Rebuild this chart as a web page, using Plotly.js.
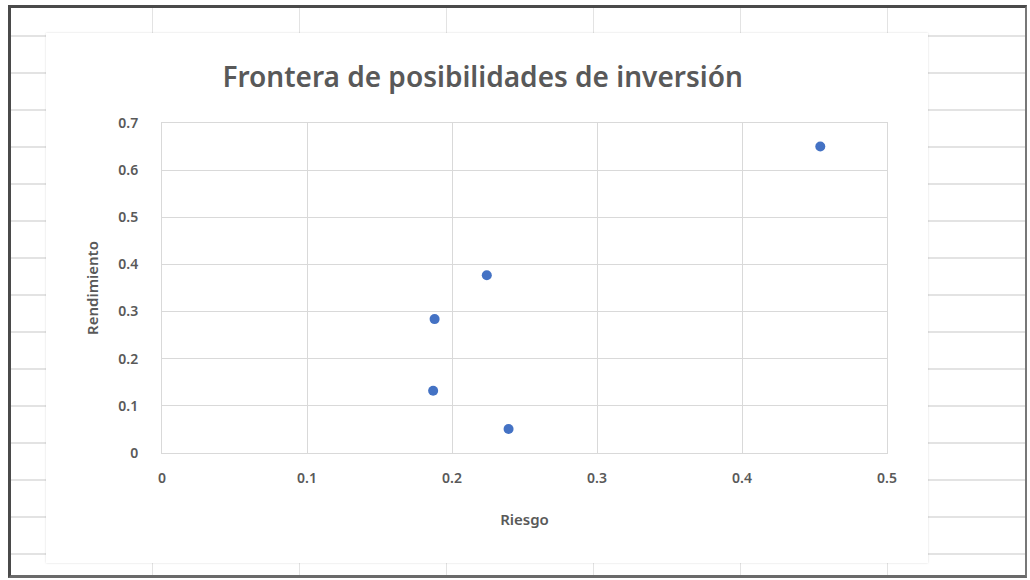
<!DOCTYPE html>
<html>
<head>
<meta charset="utf-8">
<script src="https://cdn.plot.ly/plotly-3.0.1.min.js"></script>
<style>
  html, body { margin: 0; padding: 0; width: 1030px; height: 580px; overflow: hidden; background: #ffffff; }
  #sheet {
    position: absolute; left: 8px; top: 5px; width: 1019px; height: 573px;
    border: 3px solid #4a4a4a; border-bottom-color: #6a6a6a; border-right-width: 2px; border-right-color: #777;
    box-sizing: border-box;
    background-color: #ffffff;
    background-image:
      repeating-linear-gradient(to right, transparent 0px, transparent 141px, #e3e3e3 141px, #e3e3e3 142px, transparent 142px, transparent 147px),
      repeating-linear-gradient(to bottom, transparent 0px, transparent 27px, #e3e3e3 27px, #e3e3e3 29px, transparent 29px, transparent 37px);
  }
  #chart { position: absolute; left: 46px; top: 33px; width: 882px; height: 530px; background: #fff;
    box-shadow: 0 0 2px rgba(0,0,0,0.15); }
</style>
</head>
<body>
<div id="sheet"></div>
<div id="chart"></div>
<script>
// Data
const riesgo = [0.454, 0.224, 0.188, 0.187, 0.239];
const rendimiento = [0.650, 0.377, 0.284, 0.132, 0.051];
const xTicks = [0, 0.1, 0.2, 0.3, 0.4, 0.5];
const xTickLabels = ['0', '0.1', '0.2', '0.3', '0.4', '0.5'];
const yTicks = [0, 0.1, 0.2, 0.3, 0.4, 0.5, 0.6, 0.7];
const yTickLabels = ['0', '0.1', '0.2', '0.3', '0.4', '0.5', '0.6', '0.7'];

const FONT = '"Noto Sans", "Open Sans", sans-serif';
const GREY = '#595959';

const trace = {
  type: 'scatter', mode: 'markers',
  x: riesgo, y: rendimiento,
  marker: { color: '#4472C4', size: 10 },
  hoverinfo: 'x+y'
};

const layout = {
  width: 882, height: 530,
  paper_bgcolor: '#ffffff', plot_bgcolor: '#ffffff',
  margin: { l: 116, r: 41, t: 90, b: 110 },
  showlegend: false,
  title: {
    text: 'Frontera de posibilidades de inversión',
    font: { family: FONT, size: 28, color: GREY, weight: 600 },
    x: 0.495, xanchor: 'center', y: 0.917, yanchor: 'middle'
  },
  xaxis: {
    range: [0, 0.5], tickvals: xTicks, ticktext: xTickLabels,
    showgrid: true, gridcolor: '#d9d9d9', gridwidth: 1,
    zeroline: false, showline: true, linecolor: '#d9d9d9', mirror: true,
    ticks: '', ticklabelstandoff: 12,
    tickfont: { family: FONT, size: 14, color: GREY, weight: 600 },
    title: { text: 'Riesgo', font: { family: FONT, size: 15, color: GREY, weight: 600 }, standoff: 28 }
  },
  yaxis: {
    range: [0, 0.7], tickvals: yTicks, ticktext: yTickLabels,
    showgrid: true, gridcolor: '#d9d9d9', gridwidth: 1,
    zeroline: false, showline: true, linecolor: '#d9d9d9', mirror: true,
    ticks: '', ticklabelstandoff: 20,
    tickfont: { family: FONT, size: 14, color: GREY, weight: 600 },
    title: { text: 'Rendimiento', font: { family: FONT, size: 15, color: GREY, weight: 600 }, standoff: 16 }
  }
};

Plotly.newPlot('chart', [trace], layout, { displayModeBar: false, staticPlot: true });
</script>
</body>
</html>
